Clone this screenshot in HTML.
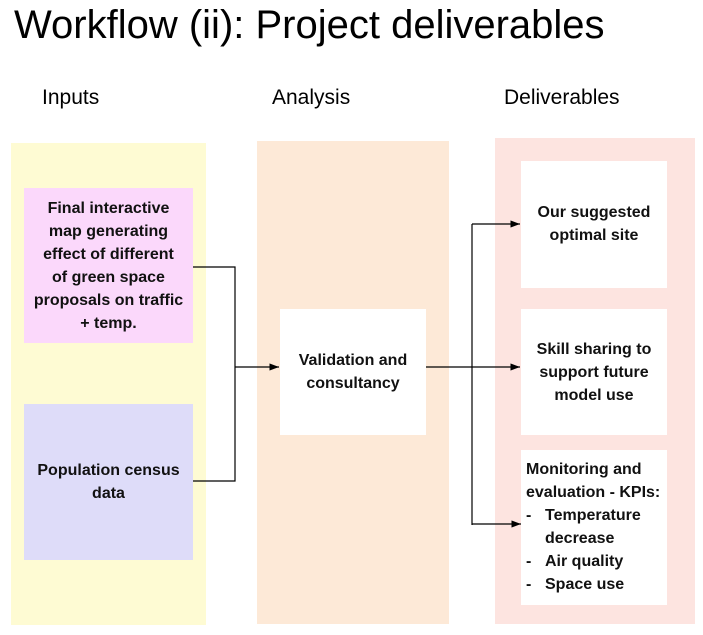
<!DOCTYPE html>
<html><head><style>
body{margin:0;width:703px;height:635px;background:#fff;position:relative;overflow:hidden;font-family:"Liberation Sans",sans-serif;}
.a{position:absolute;}
.t{font-size:40px;left:14px;top:3px;color:#000;}
.h{font-size:21px;top:86px;}
.box{position:absolute;display:flex;align-items:center;justify-content:center;text-align:center;font-weight:bold;font-size:16px;line-height:23px;color:#111;}
</style></head><body>
<div class="a t">Workflow (ii): Project deliverables</div>
<div class="a h" style="left:42px">Inputs</div>
<div class="a h" style="left:272px">Analysis</div>
<div class="a h" style="left:504px">Deliverables</div>
<div class="a" style="left:11px;top:143px;width:195px;height:482px;background:#fefbd3"></div>
<div class="a" style="left:257px;top:141px;width:192px;height:483px;background:#fde9d7"></div>
<div class="a" style="left:495px;top:138px;width:200px;height:486px;background:#fde4e0"></div>
<div class="box" style="left:24px;top:188px;width:169px;height:155px;background:#fbd8fb">Final interactive<br>map generating<br>effect of different<br>of green space<br>proposals on traffic<br>+ temp.</div>
<div class="box" style="left:24px;top:404px;width:169px;height:156px;background:#dedcf9">Population census<br>data</div>
<div class="box" style="left:280px;top:309px;width:146px;height:126px;background:#fff">Validation and<br>consultancy</div>
<div class="box" style="left:521px;top:161px;width:146px;height:127px;background:#fff;align-items:flex-start;padding-top:0"><div style="margin-top:40px">Our suggested<br>optimal site</div></div>
<div class="box" style="left:521px;top:309px;width:146px;height:126px;background:#fff">Skill sharing to<br>support future<br>model use</div>
<div class="box" style="left:521px;top:450px;width:146px;height:155px;background:#fff;text-align:left;justify-content:flex-start;align-items:flex-start"><div style="margin-left:5px;margin-top:8px;white-space:nowrap">Monitoring and<br>evaluation - KPIs:<br><span style="display:inline-block;width:19px">-</span>Temperature<br><span style="display:inline-block;width:19px"></span>decrease<br><span style="display:inline-block;width:19px">-</span>Air quality<br><span style="display:inline-block;width:19px">-</span>Space use</div></div>
<svg class="a" style="left:0;top:0" width="703" height="635">
<defs><marker id="m" markerWidth="8" markerHeight="6" refX="8" refY="3" orient="auto"><path d="M0,0L8,3L0,6z" fill="#000"/></marker></defs>
<g stroke="#000" stroke-width="1.2" fill="none">
<path d="M193,267H235V481H193"/>
<path d="M235,367H279" marker-end="url(#m)"/>
<path d="M426,367H520" marker-end="url(#m)"/>
<path d="M472,224V525"/>
<path d="M472,224H520" marker-end="url(#m)"/>
<path d="M472,524H521" marker-end="url(#m)"/>
</g></svg>
</body></html>
